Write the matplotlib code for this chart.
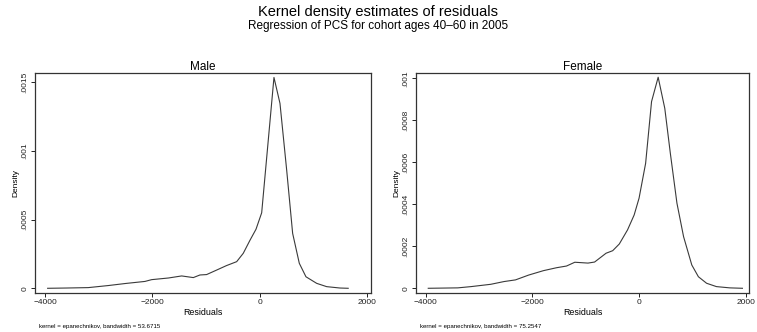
import numpy as np
import matplotlib
matplotlib.use("Agg")
from matplotlib import pyplot as plt

plt.rcParams['font.family'] = ['Liberation Sans', 'DejaVu Sans']

# values
male_x = [-3950, -3600, -3193, -2820, -2500, -2137, -2012, -1700, -1453, -1236,
          -1112, -988, -800, -620, -428, -305, -180, -68, 38, 267, 379, 504,
          615, 739, 863, 1063, 1249, 1497, 1650]
male_y = [0, 0.000002, 0.000005, 0.00002, 0.000035, 0.00005, 0.000063, 0.000075,
          0.00009, 0.000078, 0.000097, 0.0001, 0.000133, 0.000165, 0.000194,
          0.000255, 0.00035, 0.00043, 0.00055, 0.001536, 0.001347, 0.00086,
          0.0004, 0.000182, 0.000084, 0.000036, 0.000012, 0.000002, 0]

female_x = [-3950, -3396, -3148, -2778, -2531, -2315, -2068, -1791, -1544, -1359,
            -1204, -957, -833, -618, -494, -370, -216, -92, 0, 123, 234, 358,
            482, 586, 710, 834, 988, 1112, 1265, 1450, 1700, 1937]
female_y = [0, 0.000002, 0.000008, 0.000019, 0.000032, 0.00004, 0.000063, 0.000084,
            0.000098, 0.000106, 0.000124, 0.00012, 0.000125, 0.000167, 0.000179,
            0.000211, 0.000278, 0.000349, 0.000429, 0.000595, 0.000889, 0.001005,
            0.000857, 0.000643, 0.000405, 0.000246, 0.000111, 0.000055, 0.000024,
            0.000008, 0.000002, 0]

x_ticks = [-4000, -2000, 0, 2000]
x_ticklabels = ['\u22124000', '\u22122000', '0', '2000']
male_yticks = [0, 0.0005, 0.001, 0.0015]
male_yticklabels = ['0', '.0005', '.001', '.0015']
female_yticks = [0, 0.0002, 0.0004, 0.0006, 0.0008, 0.001]
female_yticklabels = ['0', '.0002', '.0004', '.0006', '.0008', '.001']

fig = plt.figure(figsize=(7.57, 3.32), dpi=100)

panels = [
    ("Male", male_x, male_y, male_yticks, male_yticklabels,
     [0.0462, 0.1175, 0.4439, 0.6625], (-4186, 2075), (-0.0000342, 0.001568),
     "kernel = epanechnikov, bandwidth = 53.6715"),
    ("Female", female_x, female_y, female_yticks, female_yticklabels,
     [0.5495, 0.1175, 0.4400, 0.6625], (-4180, 2061), (-0.0000224, 0.001025),
     "kernel = epanechnikov, bandwidth = 75.2547"),
]

for title, xs, ys, yt, ytl, pos, xl, yl, note in panels:
    ax = fig.add_axes(pos)
    ax.plot(xs, ys, color='#3a3a3a', lw=0.8)
    ax.set_xlim(*xl)
    ax.set_ylim(*yl)
    ax.set_xticks(x_ticks)
    ax.set_xticklabels(x_ticklabels, fontsize=6)
    ax.set_yticks(yt)
    ax.set_yticklabels(ytl, fontsize=6, rotation=90, va='center')
    ax.tick_params(length=3, width=0.7, pad=1.5, colors='#222222')
    for s in ax.spines.values():
        s.set_linewidth(0.9)
        s.set_color('#333333')
    ax.set_title(title, fontsize=8.5, pad=2)
    ax.set_xlabel("Residuals", fontsize=6.4, labelpad=1)
    ax.set_ylabel("Density", fontsize=6, labelpad=2)
    ax.text(pos[0] + 0.005, 0.018, note, transform=fig.transFigure, fontsize=4.4,
            ha='left', va='center')

fig.text(0.5, 0.963, "Kernel density estimates of residuals", ha='center',
         va='center', fontsize=10.5)
fig.text(0.5, 0.921, "Regression of PCS for cohort ages 40\u201360 in 2005",
         ha='center', va='center', fontsize=8.5)

fig.savefig("out.png", dpi=100)
